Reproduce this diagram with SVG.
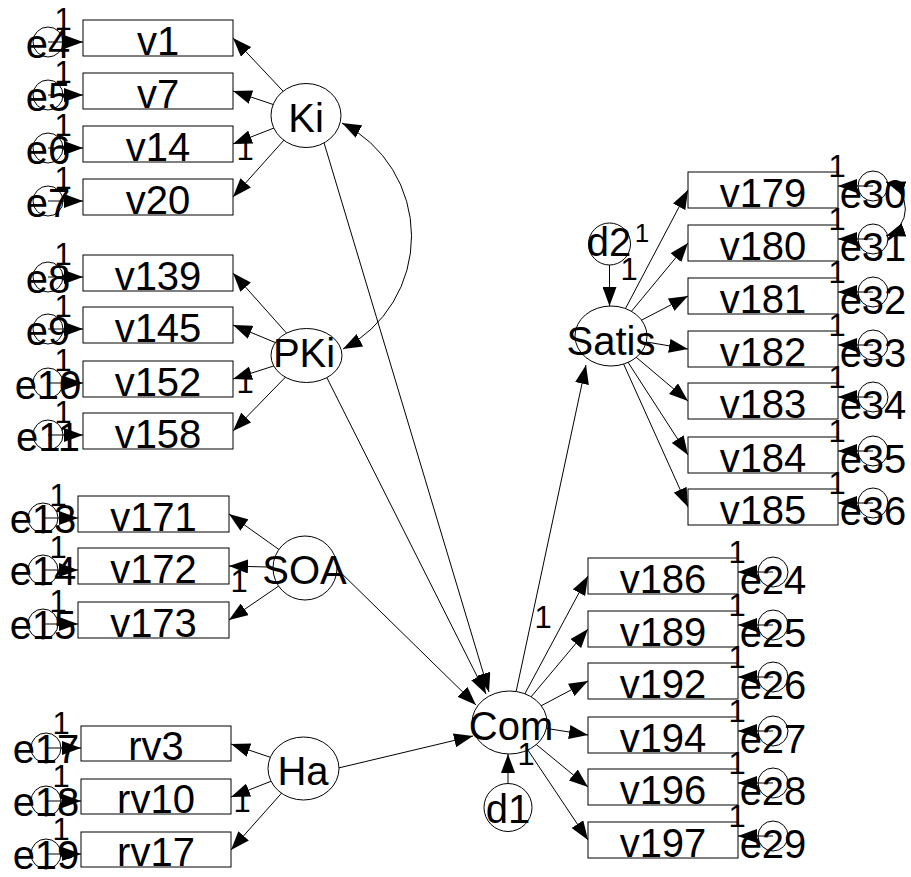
<svg xmlns="http://www.w3.org/2000/svg" width="911" height="877" viewBox="0 0 911 877">
<defs>
<marker id="ah" markerWidth="19" markerHeight="14" refX="19" refY="7" orient="auto" markerUnits="userSpaceOnUse"><path d="M0,0 L19,7 L0,14 Z" fill="#000"/></marker>
<marker id="ah2" markerWidth="19" markerHeight="14" refX="19" refY="7" orient="auto-start-reverse" markerUnits="userSpaceOnUse"><path d="M0,0 L19,7 L0,14 Z" fill="#000"/></marker>
<style>
.c{stroke:#000;stroke-width:1;fill:none;marker-end:url(#ah)}
.cov{stroke:#000;stroke-width:1;fill:none;marker-start:url(#ah2);marker-end:url(#ah2)}
.box{fill:#fff;stroke:#000;stroke-width:1}
.lat{fill:#fff;stroke:#000;stroke-width:1}
.err{fill:none;stroke:#000;stroke-width:1}
.t{font-family:"Liberation Sans",Arial,sans-serif;font-size:40px;text-anchor:middle;fill:#000}
.one{font-family:"Liberation Sans",Arial,sans-serif;font-size:31px;text-anchor:middle;fill:#000}
</style>
</defs>
<rect width="911" height="877" fill="#fff"/>
<g id="connectors">
<line class="c" x1="306" y1="115.5" x2="233" y2="38"/>
<line class="c" x1="306" y1="115.5" x2="233" y2="91"/>
<line class="c" x1="306" y1="115.5" x2="233" y2="144"/>
<line class="c" x1="306" y1="115.5" x2="233" y2="197"/>
<line class="c" x1="306.5" y1="355.5" x2="233" y2="273"/>
<line class="c" x1="306.5" y1="355.5" x2="233" y2="325"/>
<line class="c" x1="306.5" y1="355.5" x2="233" y2="379"/>
<line class="c" x1="306.5" y1="355.5" x2="233" y2="431"/>
<line class="c" x1="305" y1="568" x2="229" y2="514"/>
<line class="c" x1="305" y1="568" x2="229" y2="566"/>
<line class="c" x1="305" y1="568" x2="229" y2="620"/>
<line class="c" x1="303.5" y1="768.5" x2="231" y2="744"/>
<line class="c" x1="303.5" y1="768.5" x2="231" y2="797"/>
<line class="c" x1="303.5" y1="768.5" x2="231" y2="850"/>
<line class="c" x1="611" y1="336" x2="688" y2="190"/>
<line class="c" x1="611" y1="336" x2="688" y2="243"/>
<line class="c" x1="611" y1="336" x2="688" y2="296"/>
<line class="c" x1="611" y1="336" x2="688" y2="349"/>
<line class="c" x1="611" y1="336" x2="688" y2="401"/>
<line class="c" x1="611" y1="336" x2="688" y2="455"/>
<line class="c" x1="611" y1="336" x2="688" y2="507"/>
<line class="c" x1="509.5" y1="722.5" x2="588" y2="576"/>
<line class="c" x1="509.5" y1="722.5" x2="588" y2="629"/>
<line class="c" x1="509.5" y1="722.5" x2="588" y2="681"/>
<line class="c" x1="509.5" y1="722.5" x2="588" y2="735"/>
<line class="c" x1="509.5" y1="722.5" x2="588" y2="787"/>
<line class="c" x1="509.5" y1="722.5" x2="588" y2="840"/>
<line class="c" x1="322" y1="136" x2="489" y2="692"/>
<line class="c" x1="323" y1="370" x2="486" y2="694"/>
<line class="c" x1="333" y1="565" x2="476" y2="705"/>
<line class="c" x1="330" y1="770" x2="473" y2="736"/>
<line class="c" x1="509.5" y1="722.5" x2="586" y2="365"/>
<line class="c" x1="609.5" y1="265" x2="609.5" y2="306"/>
<line class="c" x1="508" y1="783.5" x2="508" y2="754"/>
<path class="cov" d="M342,123 A127,127 0 0 1 343,349"/>
<path class="cov" d="M886,182 A28.5,28.5 0 0 1 886,236"/>
<line class="c" x1="48" y1="42" x2="83" y2="42"/>
<line class="c" x1="48" y1="95" x2="83" y2="95"/>
<line class="c" x1="48" y1="148" x2="83" y2="148"/>
<line class="c" x1="48" y1="201" x2="83" y2="201"/>
<line class="c" x1="48" y1="277" x2="83" y2="277"/>
<line class="c" x1="48" y1="329" x2="83" y2="329"/>
<line class="c" x1="48" y1="383" x2="83" y2="383"/>
<line class="c" x1="48" y1="435" x2="83" y2="435"/>
<line class="c" x1="43" y1="518" x2="78" y2="518"/>
<line class="c" x1="43" y1="570" x2="78" y2="570"/>
<line class="c" x1="43" y1="624" x2="78" y2="624"/>
<line class="c" x1="46" y1="748" x2="81" y2="748"/>
<line class="c" x1="46" y1="801" x2="81" y2="801"/>
<line class="c" x1="46" y1="854" x2="81" y2="854"/>
<line class="c" x1="873" y1="186" x2="838" y2="186"/>
<line class="c" x1="873" y1="239" x2="838" y2="239"/>
<line class="c" x1="873" y1="292" x2="838" y2="292"/>
<line class="c" x1="873" y1="345" x2="838" y2="345"/>
<line class="c" x1="873" y1="397" x2="838" y2="397"/>
<line class="c" x1="873" y1="451" x2="838" y2="451"/>
<line class="c" x1="873" y1="503" x2="838" y2="503"/>
<line class="c" x1="773" y1="572" x2="738" y2="572"/>
<line class="c" x1="773" y1="625" x2="738" y2="625"/>
<line class="c" x1="773" y1="677" x2="738" y2="677"/>
<line class="c" x1="773" y1="731" x2="738" y2="731"/>
<line class="c" x1="773" y1="783" x2="738" y2="783"/>
<line class="c" x1="773" y1="836" x2="738" y2="836"/>
</g>
<g id="latents">
<g id="Ki"><ellipse class="lat" cx="306" cy="115.5" rx="35" ry="32"/><text class="t" x="306" y="132">Ki</text></g>
<g id="PKi"><ellipse class="lat" cx="306.5" cy="355.5" rx="35.5" ry="27"/><text class="t" x="304" y="367">PKi</text></g>
<g id="SOA"><ellipse class="lat" cx="305" cy="568" rx="32" ry="32"/><text class="t" x="304.5" y="584">SOA</text></g>
<g id="Ha"><ellipse class="lat" cx="303.5" cy="768.5" rx="35.5" ry="31.5"/><text class="t" x="303" y="785">Ha</text></g>
<g id="Satis"><ellipse class="lat" cx="611" cy="336" rx="36" ry="30"/><text class="t" x="611" y="355">Satis</text></g>
<g id="Com"><ellipse class="lat" cx="509.5" cy="722.5" rx="37.5" ry="31.5"/><text class="t" x="511" y="740">Com</text></g>
<g id="d2"><circle class="lat" cx="609.5" cy="244" r="21"/><text class="t" x="609" y="256">d2</text></g>
<g id="d1"><circle class="lat" cx="508" cy="807.5" r="24"/><text class="t" x="508" y="823">d1</text></g>
</g>
<g id="observed">
<g id="v1"><rect class="box" x="83" y="20" width="150" height="36"/><text class="t" x="158" y="55">v1</text></g>
<g id="v7"><rect class="box" x="83" y="73" width="150" height="36"/><text class="t" x="158" y="108">v7</text></g>
<g id="v14"><rect class="box" x="83" y="126" width="150" height="36"/><text class="t" x="158" y="161">v14</text></g>
<g id="v20"><rect class="box" x="83" y="179" width="150" height="36"/><text class="t" x="158" y="214">v20</text></g>
<g id="v139"><rect class="box" x="83" y="255" width="150" height="36"/><text class="t" x="158" y="290">v139</text></g>
<g id="v145"><rect class="box" x="83" y="307" width="150" height="36"/><text class="t" x="158" y="342">v145</text></g>
<g id="v152"><rect class="box" x="83" y="361" width="150" height="36"/><text class="t" x="158" y="396">v152</text></g>
<g id="v158"><rect class="box" x="83" y="413" width="150" height="36"/><text class="t" x="158" y="448">v158</text></g>
<g id="v171"><rect class="box" x="78" y="496" width="151" height="36"/><text class="t" x="153.5" y="531">v171</text></g>
<g id="v172"><rect class="box" x="78" y="548" width="151" height="36"/><text class="t" x="153.5" y="583">v172</text></g>
<g id="v173"><rect class="box" x="78" y="602" width="151" height="36"/><text class="t" x="153.5" y="637">v173</text></g>
<g id="rv3"><rect class="box" x="81" y="726" width="150" height="35"/><text class="t" x="156" y="760">rv3</text></g>
<g id="rv10"><rect class="box" x="81" y="779" width="150" height="35"/><text class="t" x="156" y="813">rv10</text></g>
<g id="rv17"><rect class="box" x="81" y="832" width="150" height="35"/><text class="t" x="156" y="866">rv17</text></g>
<g id="v179"><rect class="box" x="688" y="172" width="150" height="36"/><text class="t" x="763" y="207">v179</text></g>
<g id="v180"><rect class="box" x="688" y="225" width="150" height="36"/><text class="t" x="763" y="260">v180</text></g>
<g id="v181"><rect class="box" x="688" y="278" width="150" height="36"/><text class="t" x="763" y="313">v181</text></g>
<g id="v182"><rect class="box" x="688" y="331" width="150" height="36"/><text class="t" x="763" y="366">v182</text></g>
<g id="v183"><rect class="box" x="688" y="383" width="150" height="36"/><text class="t" x="763" y="418">v183</text></g>
<g id="v184"><rect class="box" x="688" y="437" width="150" height="36"/><text class="t" x="763" y="472">v184</text></g>
<g id="v185"><rect class="box" x="688" y="489" width="150" height="36"/><text class="t" x="763" y="524">v185</text></g>
<g id="v186"><rect class="box" x="588" y="558" width="150" height="36"/><text class="t" x="663" y="593">v186</text></g>
<g id="v189"><rect class="box" x="588" y="611" width="150" height="36"/><text class="t" x="663" y="646">v189</text></g>
<g id="v192"><rect class="box" x="588" y="663" width="150" height="36"/><text class="t" x="663" y="698">v192</text></g>
<g id="v194"><rect class="box" x="588" y="717" width="150" height="36"/><text class="t" x="663" y="752">v194</text></g>
<g id="v196"><rect class="box" x="588" y="769" width="150" height="36"/><text class="t" x="663" y="804">v196</text></g>
<g id="v197"><rect class="box" x="588" y="822" width="150" height="36"/><text class="t" x="663" y="857">v197</text></g>
</g>
<g id="errors">
<g id="e4"><circle class="err" cx="48" cy="42" r="15"/><text class="t" x="48" y="58">e4</text></g>
<g id="e5"><circle class="err" cx="48" cy="95" r="15"/><text class="t" x="48" y="111">e5</text></g>
<g id="e6"><circle class="err" cx="48" cy="148" r="15"/><text class="t" x="48" y="164">e6</text></g>
<g id="e7"><circle class="err" cx="48" cy="201" r="15"/><text class="t" x="48" y="217">e7</text></g>
<g id="e8"><circle class="err" cx="48" cy="277" r="15"/><text class="t" x="48" y="293">e8</text></g>
<g id="e9"><circle class="err" cx="48" cy="329" r="15"/><text class="t" x="48" y="345">e9</text></g>
<g id="e10"><circle class="err" cx="48" cy="383" r="15"/><text class="t" x="48" y="399">e10</text></g>
<g id="e11"><circle class="err" cx="48" cy="435" r="15"/><text class="t" x="48" y="451">e11</text></g>
<g id="e13"><circle class="err" cx="43" cy="518" r="15"/><text class="t" x="43" y="533">e13</text></g>
<g id="e14"><circle class="err" cx="43" cy="570" r="15"/><text class="t" x="43" y="585">e14</text></g>
<g id="e15"><circle class="err" cx="43" cy="624" r="15"/><text class="t" x="43" y="639">e15</text></g>
<g id="e17"><circle class="err" cx="46" cy="748" r="15"/><text class="t" x="46" y="763">e17</text></g>
<g id="e18"><circle class="err" cx="46" cy="801" r="15"/><text class="t" x="46" y="816">e18</text></g>
<g id="e19"><circle class="err" cx="46" cy="854" r="15"/><text class="t" x="46" y="869">e19</text></g>
<g id="e30"><circle class="err" cx="873" cy="186" r="15"/><text class="t" x="873" y="208">e30</text></g>
<g id="e31"><circle class="err" cx="873" cy="239" r="15"/><text class="t" x="873" y="261">e31</text></g>
<g id="e32"><circle class="err" cx="873" cy="292" r="15"/><text class="t" x="873" y="314">e32</text></g>
<g id="e33"><circle class="err" cx="873" cy="345" r="15"/><text class="t" x="873" y="367">e33</text></g>
<g id="e34"><circle class="err" cx="873" cy="397" r="15"/><text class="t" x="873" y="419">e34</text></g>
<g id="e35"><circle class="err" cx="873" cy="451" r="15"/><text class="t" x="873" y="473">e35</text></g>
<g id="e36"><circle class="err" cx="873" cy="503" r="15"/><text class="t" x="873" y="525">e36</text></g>
<g id="e24"><circle class="err" cx="773" cy="572" r="15"/><text class="t" x="773" y="594">e24</text></g>
<g id="e25"><circle class="err" cx="773" cy="625" r="15"/><text class="t" x="773" y="647">e25</text></g>
<g id="e26"><circle class="err" cx="773" cy="677" r="15"/><text class="t" x="773" y="699">e26</text></g>
<g id="e27"><circle class="err" cx="773" cy="731" r="15"/><text class="t" x="773" y="753">e27</text></g>
<g id="e28"><circle class="err" cx="773" cy="783" r="15"/><text class="t" x="773" y="805">e28</text></g>
<g id="e29"><circle class="err" cx="773" cy="836" r="15"/><text class="t" x="773" y="858">e29</text></g>
</g>
<g id="labels">
<text class="one" x="63" y="30">1</text>
<text class="one" x="63" y="83">1</text>
<text class="one" x="63" y="136">1</text>
<text class="one" x="63" y="189">1</text>
<text class="one" x="63" y="265">1</text>
<text class="one" x="63" y="317">1</text>
<text class="one" x="63" y="371">1</text>
<text class="one" x="63" y="423">1</text>
<text class="one" x="58" y="506">1</text>
<text class="one" x="58" y="558">1</text>
<text class="one" x="58" y="612">1</text>
<text class="one" x="61" y="734">1</text>
<text class="one" x="61" y="787">1</text>
<text class="one" x="61" y="840">1</text>
<text class="one" x="837" y="177">1</text>
<text class="one" x="837" y="230">1</text>
<text class="one" x="837" y="283">1</text>
<text class="one" x="837" y="336">1</text>
<text class="one" x="837" y="388">1</text>
<text class="one" x="837" y="442">1</text>
<text class="one" x="837" y="494">1</text>
<text class="one" x="737" y="563">1</text>
<text class="one" x="737" y="616">1</text>
<text class="one" x="737" y="668">1</text>
<text class="one" x="737" y="722">1</text>
<text class="one" x="737" y="774">1</text>
<text class="one" x="737" y="827">1</text>
<text class="one" x="245" y="160">1</text>
<text class="one" x="245" y="393">1</text>
<text class="one" x="239" y="592">1</text>
<text class="one" x="242" y="812">1</text>
<text class="one" x="543" y="628">1</text>
<text class="one" x="526" y="765">1</text>
<text class="one" x="642" y="242" style="font-size:26px">1</text>
<text class="one" x="629" y="280">1</text>
</g>
</svg>
